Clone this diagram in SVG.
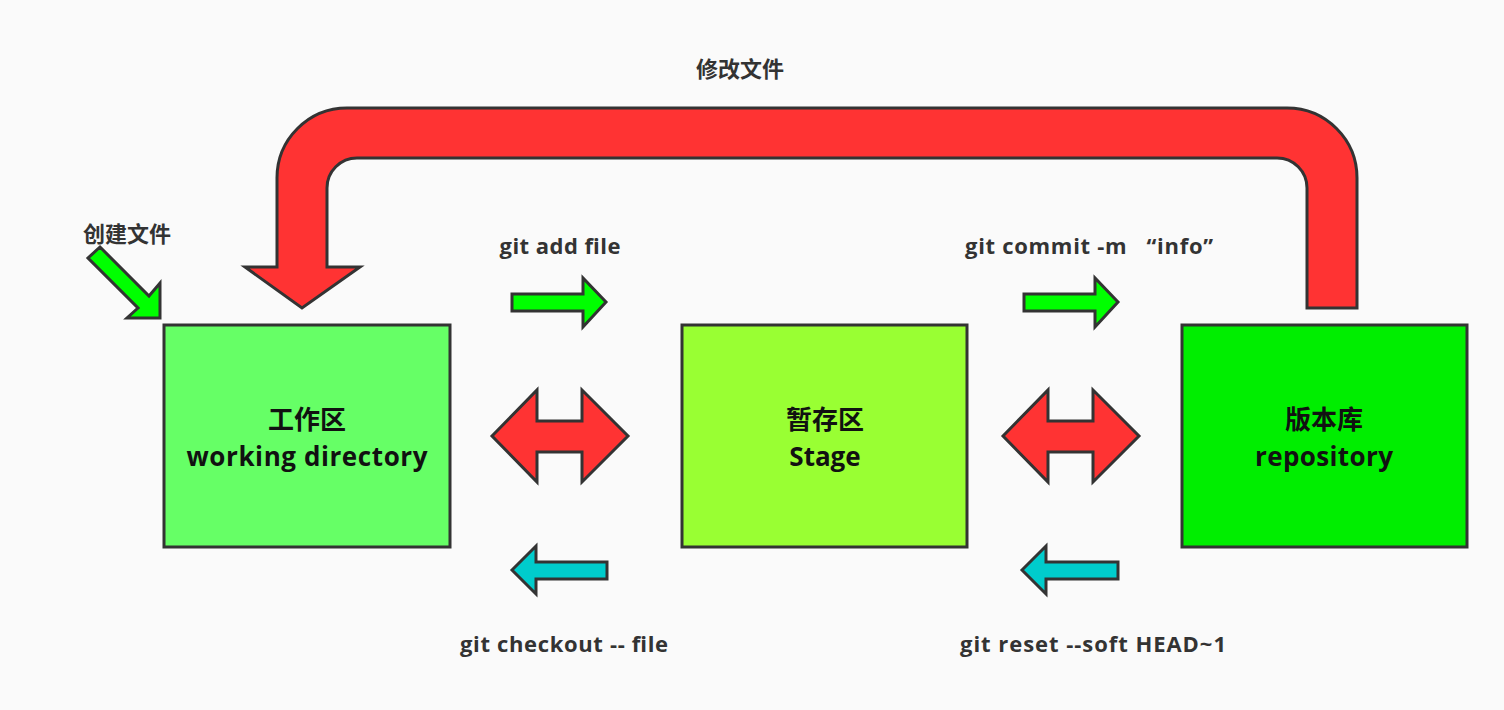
<svg xmlns="http://www.w3.org/2000/svg" width="1504" height="710" viewBox="0 0 1504 710">
<style>
.bx{stroke:#333;stroke-width:3}
.ar{stroke:#333;stroke-width:3;stroke-linejoin:miter}
.t{font-family:"Open Sans","Noto Sans CJK SC",sans-serif;font-weight:bold;fill:#333;text-anchor:middle}
.lbl{font-size:22px}
.big{font-size:26px;fill:#111}
.g{fill:#00ff00}
.r{fill:#ff3333}
.c{fill:#00cccc}
</style>
<rect width="1504" height="710" fill="#fafafa"/>
<g id="connectors">
<path class="ar r" d="M1307 308 L1307 188 A30 30 0 0 0 1277 158 L357 158 A30 30 0 0 0 327 188 L327 267 L360 267 L302 308 L245 267 L277 267 L277 178 A70 70 0 0 1 347 108 L1287 108 A70 70 0 0 1 1357 178 L1357 308 Z"/>
<polygon class="ar g" points="100,247 149,296 160,283 160,318 127,318 138,308 88,258"/>
<polygon class="ar g" points="512,294 583,294 583,278 606,302 583,327 583,311 512,311"/>
<polygon class="ar g" points="1024,294 1095,294 1095,278 1118,302 1095,327 1095,311 1024,311"/>
<polygon class="ar r" points="492,436 537,390 537,421 582,421 582,390 628,436 582,482 582,452 537,452 537,482"/>
<polygon class="ar r" points="1003,436 1048,390 1048,421 1093,421 1093,390 1139,436 1093,482 1093,452 1048,452 1048,482"/>
<polygon class="ar c" points="512,570 536,546 536,562 607,562 607,579 536,579 536,594"/>
<polygon class="ar c" points="1022,570 1046,546 1046,562 1118,562 1118,579 1046,579 1046,594"/>
<text class="t lbl" x="740" y="77">修改文件</text>
<text class="t lbl" x="127" y="242">创建文件</text>
<text class="t lbl" x="560" y="254" textLength="121" lengthAdjust="spacing">git add file</text>
<text class="t lbl" x="1089" y="254" textLength="248" lengthAdjust="spacing" xml:space="preserve">git commit -m   “info”</text>
<text class="t lbl" x="564" y="652" textLength="208" lengthAdjust="spacing">git checkout -- file</text>
<text class="t lbl" x="1093" y="652" textLength="266" lengthAdjust="spacing">git reset --soft HEAD~1</text>
</g>
<g id="working">
<rect class="bx" x="164" y="325" width="286" height="222" fill="#66ff66"/>
<text class="t big" x="307" y="429">工作区</text>
<text class="t big" x="307" y="466" textLength="241" lengthAdjust="spacing">working directory</text>
</g>
<g id="stage">
<rect class="bx" x="682" y="325" width="285" height="222" fill="#99ff33"/>
<text class="t big" x="825" y="429">暂存区</text>
<text class="t big" x="825" y="466">Stage</text>
</g>
<g id="repository">
<rect class="bx" x="1182" y="325" width="285" height="222" fill="#00ee00"/>
<text class="t big" x="1324" y="429">版本库</text>
<text class="t big" x="1324" y="466" textLength="138" lengthAdjust="spacing">repository</text>
</g>
</svg>
